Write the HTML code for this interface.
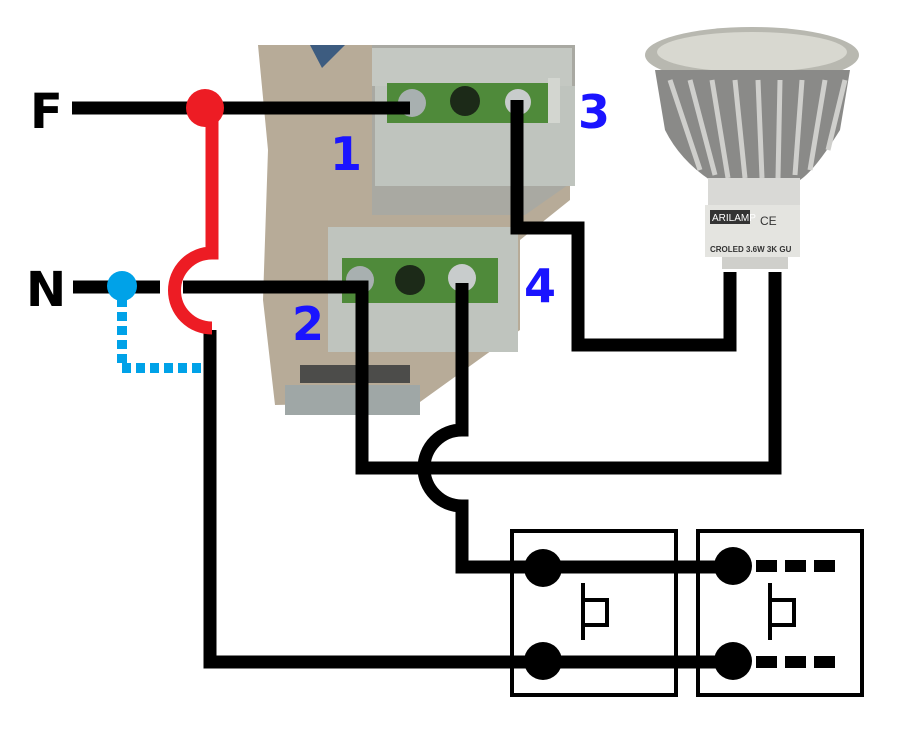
<!DOCTYPE html>
<html><head><meta charset="utf-8"><style>
html,body{margin:0;padding:0;background:#fff;width:904px;height:740px;overflow:hidden}
svg{display:block}
</style></head><body>
<svg width="904" height="740" viewBox="0 0 904 740" xmlns="http://www.w3.org/2000/svg">
<!-- module body -->
<polygon points="258,45 570,45 570,200 520,240 520,330 420,402 275,405 263,300 268,150" fill="#b7ab98"/>
<polygon points="310,45 345,45 322,68" fill="#3d5c80"/>
<polygon points="372,45 575,45 575,180 525,215 372,215" fill="#a9a9a2"/>
<rect x="372" y="48" width="200" height="38" fill="#c4c8c2"/>
<rect x="375" y="86" width="200" height="100" fill="#bfc4be"/>
<rect x="387" y="83" width="162" height="40" fill="#4f8a3a"/>
<circle cx="412" cy="103" r="14" fill="#a8b0b0"/><circle cx="465" cy="101" r="15" fill="#1c2a18"/><circle cx="518" cy="102" r="13" fill="#c8cccc"/>
<rect x="548" y="78" width="12" height="45" fill="#d3d6d0"/>
<rect x="328" y="227" width="190" height="125" fill="#bfc4be"/>
<rect x="342" y="258" width="156" height="45" fill="#4f8a3a"/>
<circle cx="360" cy="280" r="14" fill="#a8b0b0"/><circle cx="410" cy="280" r="15" fill="#1c2a18"/><circle cx="462" cy="278" r="14" fill="#c8cccc"/>
<rect x="300" y="365" width="110" height="18" fill="#4c4c4a"/>
<rect x="285" y="385" width="135" height="30" fill="#9fa7a6"/>
<!-- lamp -->
<ellipse cx="752" cy="55" rx="107" ry="28" fill="#b8b8b0"/>
<ellipse cx="752" cy="52" rx="95" ry="20" fill="#d8d8d0"/>
<path d="M655,70 L850,70 L840,130 Q815,170 800,180 L710,180 Q680,160 665,130 Z" fill="#8a8a88"/>
<g stroke="#cfcfcc" stroke-width="5" fill="none">
<path d="M670,80 L700,170"/><path d="M690,80 L715,175"/><path d="M712,80 L728,178"/><path d="M735,80 L745,178"/><path d="M758,80 L762,178"/><path d="M780,80 L778,178"/><path d="M802,80 L795,175"/><path d="M825,80 L810,170"/><path d="M845,80 L828,150"/></g>
<rect x="708" y="178" width="92" height="30" fill="#d9d9d6"/>
<rect x="705" y="205" width="95" height="52" fill="#e4e4e0"/>
<rect x="710" y="210" width="40" height="14" fill="#333"/>
<text x="712" y="221" font-family="Liberation Sans,sans-serif" font-size="10" fill="#fff">ARILAMP</text>
<text x="760" y="225" font-family="Liberation Sans,sans-serif" font-size="12" fill="#333">CE</text>
<text x="710" y="252" font-family="Liberation Sans,sans-serif" font-size="8" font-weight="bold" fill="#333">CROLED 3.6W 3K GU</text>
<rect x="722" y="257" width="66" height="12" fill="#cfcfcb"/>
<!-- wires -->
<g fill="none" stroke="#000" stroke-width="13">
<path d="M72,108 H410"/>
<path d="M73,287 H160"/><path d="M183,287 H362 V468 H775 V272"/>
<path d="M517,100 V228 H578 V345 H730 V272"/>
<path d="M462,283 V430 A38,38 0 0 0 462,506 V567 H730"/>
<path d="M210,330 V662 H735"/>
</g>
<!-- red -->
<path d="M212,108 V253 A37,37 0 0 0 212,328" fill="none" stroke="#ed1c24" stroke-width="13"/>
<circle cx="205" cy="108" r="19" fill="#ed1c24"/>
<!-- blue -->
<circle cx="122" cy="286" r="15" fill="#00a2e8"/>
<path d="M122,298 V368 H204" fill="none" stroke="#00a2e8" stroke-width="10" stroke-dasharray="9,5"/>
<!-- switches -->
<rect x="512" y="531" width="164" height="164" fill="none" stroke="#000" stroke-width="4"/>
<rect x="698" y="531" width="164" height="164" fill="none" stroke="#000" stroke-width="4"/>
<g fill="#000"><circle cx="543" cy="568" r="19"/><circle cx="543" cy="661" r="19"/><circle cx="733" cy="566" r="19"/><circle cx="733" cy="661" r="19"/></g>
<g stroke="#000" stroke-width="12" stroke-dasharray="21,8"><path d="M756,566 H835"/><path d="M756,662 H835"/></g>
<g fill="none" stroke="#000" stroke-width="4">
<path d="M583,583 V640 M583,600 H607 V625 H583"/>
<path d="M770,583 V640 M770,600 H794 V625 H770"/>
</g>
<!-- labels -->
<g font-family="DejaVu Sans,Liberation Sans,sans-serif" font-weight="bold" font-size="48">
<text x="30" y="128" fill="#000">F</text>
<text x="26" y="306" fill="#000">N</text>
</g>
<g font-family="DejaVu Sans,Liberation Sans,sans-serif" font-weight="bold" font-size="46" fill="#1a14ff">
<text x="330" y="170">1</text>
<text x="578" y="128">3</text>
<text x="292" y="340">2</text>
<text x="524" y="302">4</text>
</g>
</svg>
</body></html>
